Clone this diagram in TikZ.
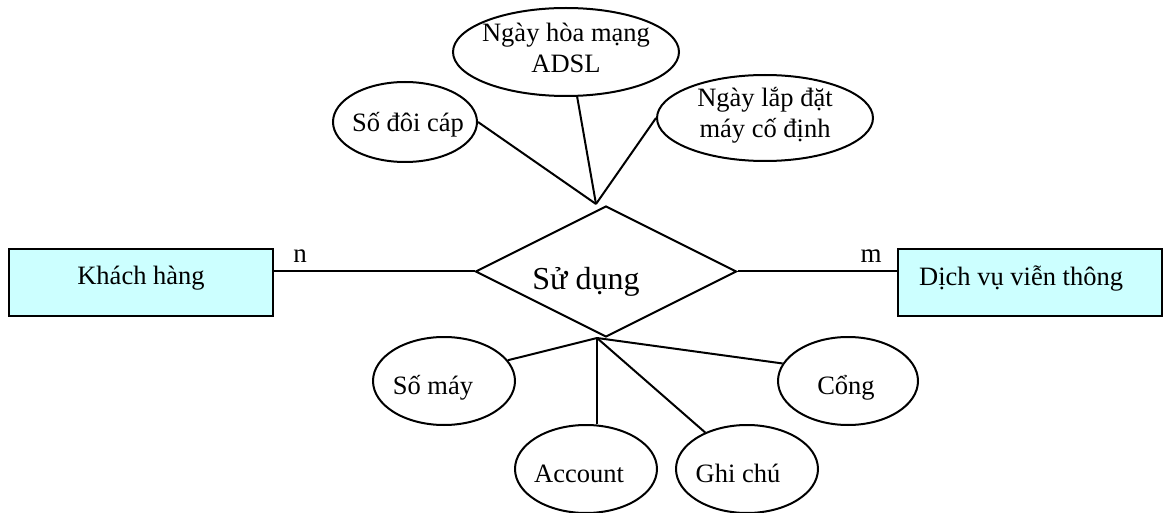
\documentclass[tikz,border=0pt]{standalone}
\usepackage{fontspec}
\setmainfont{Liberation Serif}
\usetikzlibrary{shapes.geometric}
\definecolor{entityfill}{RGB}{204,255,255}
\begin{document}
\begin{tikzpicture}[x=1pt,y=-1pt,
  entity/.style={draw, line width=2.2pt, fill=entityfill, minimum width=264pt, minimum height=67pt, inner sep=0pt},
  relation/.style={draw, diamond, line width=2pt, minimum width=261pt, minimum height=131pt, inner sep=0pt},
  attr/.style={draw, ellipse, line width=2pt, inner sep=0pt},
  txt/.style={font=\fontsize{26.5}{31}\selectfont, inner sep=0pt, anchor=base, align=center},
  bigtxt/.style={font=\fontsize{32}{38}\selectfont, inner sep=0pt, anchor=base},
  link/.style={line width=2pt},
]
\useasboundingbox (0,0) rectangle (1168,513);

% entities and relationship
\node[entity] (kh) at (141,282.5) {};
\node[entity] (dv) at (1030,282.5) {};
\node[relation] (rel) at (606,271.5) {};

% attributes
\node[attr, minimum width=144pt, minimum height=80pt] (sdc)  at (405,122) {};
\node[attr, minimum width=226pt, minimum height=88pt] (adsl) at (566,52) {};
\node[attr, minimum width=216pt, minimum height=86pt] (nld)  at (765,118) {};
\node[attr, minimum width=142pt, minimum height=88pt] (sm)   at (444,381) {};
\node[attr, minimum width=142pt, minimum height=88pt] (acc)  at (586,469) {};
\node[attr, minimum width=142pt, minimum height=88pt] (gc)   at (747,469) {};
\node[attr, minimum width=140pt, minimum height=88pt] (cong) at (848,381) {};

% meeting points of the attribute lines
\coordinate (jt) at ([xshift=-10pt,yshift=1pt]rel.north);
\coordinate (jb) at ([xshift=-9pt]rel.south);

% texts (two-line texts are placed by the baseline of their last line)
\node[txt] (kh-t) at (141,285) {Khách hàng};
\node[txt, anchor=base west] (dv-t) at (919,286) {Dịch vụ viễn thông};
\node[bigtxt] (rel-t) at (586,290) {Sử dụng};
\node[txt] (sdc-t) at (408,132) {Số đôi cáp};
\node[txt] (adsl-t) at (566,73) {Ngày hòa mạng\\ADSL};
\node[txt] (nld-t) at (765,138) {Ngày lắp đặt\\máy cố định};
\node[txt] (sm-t) at (433,394) {Số máy};
\node[txt] (acc-t) at (579,482) {Account};
\node[txt] (gc-t) at (738,482) {Ghi chú};
\node[txt] (cong-t) at (846,394) {Cổng};
\node[txt, font=\fontsize{27}{32}\selectfont] (card-n) at (300,263) {n};
\node[txt, font=\fontsize{27}{32}\selectfont] (card-m) at (871,263) {m};

% connectors
\draw[link] (rel.west) -- (rel.west -| kh.east);
\draw[link] (rel.east) -- (rel.east -| dv.west);
\draw[link] (jt) -- (sdc.east);
\draw[link] (jt) -- (adsl.-76);
\draw[link] (jt) -- (nld.west);
\draw[link] (jb) -- (sm.18);
\draw[link] (jb) -- (jb |- acc.north);
\draw[link] (jb) -- (gc);
\draw[link] (jb) -- (cong.165);
\end{tikzpicture}
\end{document}
